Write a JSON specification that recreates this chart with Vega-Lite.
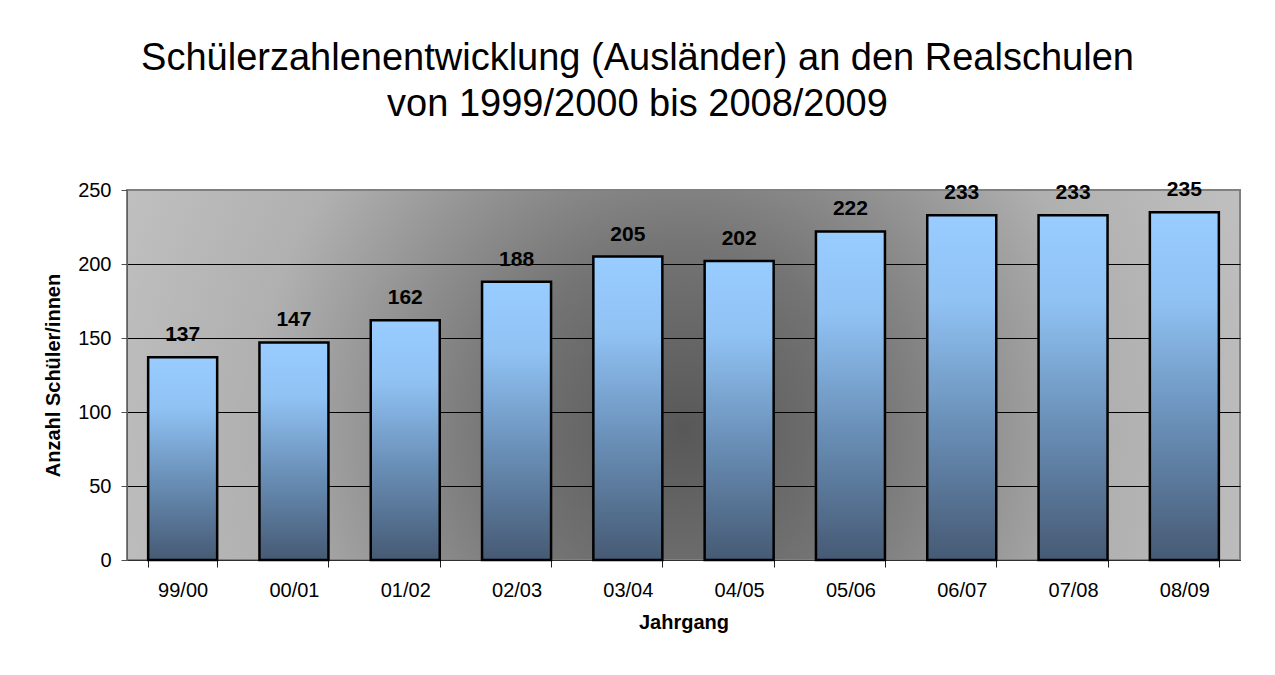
{
  "$schema": "https://vega.github.io/schema/vega-lite/v6.json",
  "width": 1113,
  "height": 370,
  "autosize": {"type": "none"},
  "padding": {"left": 127, "top": 190, "right": 35, "bottom": 115},
  "background": "white",
  "title": {
    "text": ["Schülerzahlenentwicklung (Ausländer) an den Realschulen", "von 1999/2000 bis 2008/2009"],
    "fontSize": 38,
    "font": "Liberation Sans",
    "fontWeight": "normal",
    "lineHeight": 46,
    "anchor": "middle",
    "dx": -46,
    "offset": 55,
    "color": "black"
  },
  "data": {
    "values": [
      {"Jahrgang": "99/00", "Anzahl": 137},
      {"Jahrgang": "00/01", "Anzahl": 147},
      {"Jahrgang": "01/02", "Anzahl": 162},
      {"Jahrgang": "02/03", "Anzahl": 188},
      {"Jahrgang": "03/04", "Anzahl": 205},
      {"Jahrgang": "04/05", "Anzahl": 202},
      {"Jahrgang": "05/06", "Anzahl": 222},
      {"Jahrgang": "06/07", "Anzahl": 233},
      {"Jahrgang": "07/08", "Anzahl": 233},
      {"Jahrgang": "08/09", "Anzahl": 235}
    ]
  },
  "config": {
    "font": "Liberation Sans",
    "view": {
      "fill": {
        "gradient": "radial",
        "x1": 0.5, "y1": 0.55, "r1": 0,
        "x2": 0.5, "y2": 0.55, "r2": 0.55,
        "stops": [
          {"offset": 0, "color": "#585858"},
          {"offset": 0.3, "color": "#747474"},
          {"offset": 0.7, "color": "#b0b0b0"},
          {"offset": 1, "color": "#c0c0c0"}
        ]
      },
      "stroke": "#808080",
      "strokeWidth": 2
    }
  },
  "encoding": {
    "x": {
      "field": "Jahrgang",
      "type": "nominal",
      "sort": null,
      "scale": {"paddingInner": 0.38, "paddingOuter": 0.19},
      "axis": {
        "title": "Jahrgang",
        "labelAngle": 0,
        "tickBand": "extent",
        "labelFontSize": 20,
        "labelColor": "black",
        "titleFontSize": 20,
        "titleFontWeight": "bold",
        "titleColor": "black",
        "tickSize": 7,
        "tickColor": "#202020",
        "domainColor": "#303030",
        "labelPadding": 13,
        "titlePadding": 12
      }
    },
    "y": {
      "field": "Anzahl",
      "type": "quantitative",
      "scale": {"domain": [0, 250]},
      "axis": {
        "title": "Anzahl Schüler/innen",
        "values": [0, 50, 100, 150, 200, 250],
        "grid": true,
        "gridColor": {"condition": {"test": "datum.value === 250", "value": "#808080"}, "value": "black"},
        "gridWidth": 1,
        "gridOpacity": 1,
        "labelFontSize": 20,
        "labelColor": "black",
        "labelPadding": 10,
        "titleFontSize": 20,
        "titleFontWeight": "bold",
        "titleColor": "black",
        "titlePadding": 14,
        "tickSize": 6,
        "tickColor": "#505050",
        "domainColor": "#606060"
      }
    }
  },
  "layer": [
    {
      "mark": {
        "type": "bar",
        "stroke": "black",
        "strokeWidth": 2.5,
        "color": {
          "gradient": "linear",
          "x1": 0, "y1": 0, "x2": 0, "y2": 1,
          "stops": [
            {"offset": 0, "color": "#99ccff"},
            {"offset": 0.25, "color": "#90c2f4"},
            {"offset": 0.6, "color": "#6a90b8"},
            {"offset": 1, "color": "#465a74"}
          ]
        }
      }
    },
    {
      "mark": {
        "type": "text",
        "dy": -16,
        "baseline": "alphabetic",
        "fontSize": 21,
        "fontWeight": "bold",
        "color": "black"
      },
      "encoding": {"text": {"field": "Anzahl", "type": "quantitative"}}
    }
  ]
}
